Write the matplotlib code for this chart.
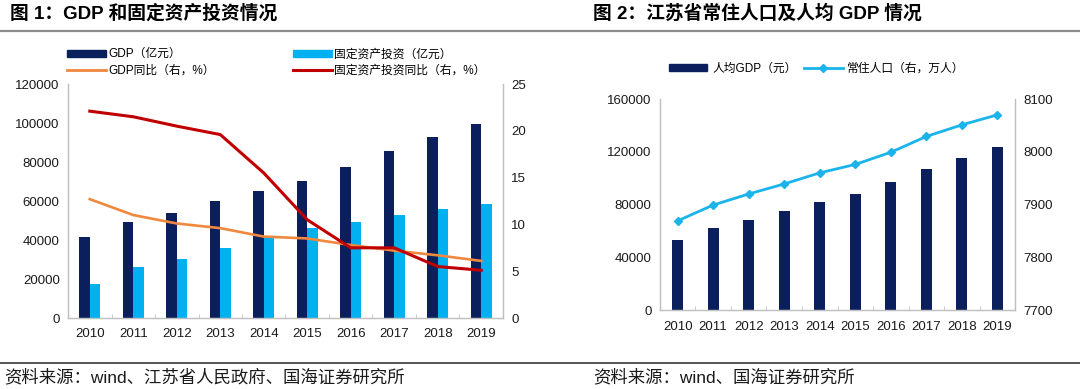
import numpy as np
import matplotlib
matplotlib.use("Agg")
import matplotlib.pyplot as plt
from matplotlib.lines import Line2D
from matplotlib.patches import Patch
from matplotlib.ticker import FixedLocator

plt.rcParams['font.family'] = ['Liberation Sans', 'Noto Sans CJK SC', 'DejaVu Sans']

years = ["2010", "2011", "2012", "2013", "2014", "2015", "2016", "2017", "2018", "2019"]

# 图1
gdp = [41425, 49110, 54058, 59753, 65088, 70116, 77388, 85870, 92595, 99632]
fai = [17400, 26300, 30400, 36000, 41500, 46000, 49300, 53000, 55900, 58500]
gdp_yoy = [12.7, 11.0, 10.1, 9.6, 8.7, 8.5, 7.8, 7.2, 6.7, 6.1]
fai_yoy = [22.1, 21.5, 20.5, 19.6, 15.5, 10.5, 7.5, 7.5, 5.5, 5.1]

# 图2
gdp_pc = [52840, 62290, 68347, 75354, 81874, 87995, 96887, 107150, 115168, 123607]
pop = [7869, 7899, 7920, 7939, 7960, 7976, 7999, 8029, 8051, 8070]

NAVY = "#0B1F5C"
LIGHT = "#00B0F0"
ORANGE = "#F0883E"
RED = "#C00000"
POPC = "#1AB4EA"
SPINE = "#C0C0C0"
TXT = "#1A1A1A"

fig = plt.figure(figsize=(10.8, 3.89), dpi=100)


def style(ax, axr, ymax_l, ymax_r):
    for a in (ax, axr):
        a.spines["top"].set_visible(False)
        for s in ("left", "right", "bottom"):
            a.spines[s].set_color(SPINE)
            a.spines[s].set_linewidth(0.9)
    ax.tick_params(axis="y", length=0, labelsize=9.5, colors=TXT, pad=6)
    axr.tick_params(axis="y", length=0, labelsize=9.5, colors=TXT, pad=6)
    ax.tick_params(axis="x", length=0, labelsize=9.5, colors=TXT, pad=7)
    ax.xaxis.set_minor_locator(FixedLocator(np.arange(0.5, 9.5, 1)))
    ax.tick_params(axis="x", which="minor", direction="in", length=3, color=SPINE)
    ax.yaxis.set_minor_locator(FixedLocator([ymax_l]))
    ax.tick_params(axis="y", which="minor", direction="in", length=4, color=SPINE)
    axr.yaxis.set_minor_locator(FixedLocator([ymax_r]))
    axr.tick_params(axis="y", which="minor", direction="in", length=4, color=SPINE)
    ax.set_xlim(-0.5, 9.5)


x = np.arange(len(years))

# ---- 图1 ----
ax1 = fig.add_axes([0.063, 0.1825, 0.4027, 0.6015])
ax1r = ax1.twinx()
w = 0.24
ax1.bar(x - w / 2, gdp, w, color=NAVY, zorder=2)
ax1.bar(x + w / 2, fai, w, color=LIGHT, zorder=2)
ax1.set_ylim(0, 120000)
ax1.set_yticks(np.arange(0, 120001, 20000))
ax1.set_xticks(x)
ax1.set_xticklabels(years)
ax1r.plot(x, gdp_yoy, color=ORANGE, lw=1.9, zorder=3)
ax1r.plot(x, fai_yoy, color=RED, lw=2.2, zorder=4)
ax1r.set_ylim(0, 25)
ax1r.set_yticks(np.arange(0, 26, 5))
style(ax1, ax1r, 120000, 25)

h1 = [Patch(color=NAVY), Line2D([], [], color=ORANGE, lw=2),
      Patch(color=LIGHT), Line2D([], [], color=RED, lw=2.2)]
l1 = ["GDP（亿元）", "GDP同比（右，%）", "固定资产投资（亿元）", "固定资产投资同比（右，%）"]
fig.legend(h1, l1, ncol=2, loc="upper left", bbox_to_anchor=(0.062, 0.876),
           frameon=False, fontsize=8.5, handlelength=3.3, handleheight=0.55,
           handletextpad=0.2, columnspacing=6.6, labelspacing=0.35,
           borderaxespad=0, borderpad=0)

# ---- 图2 ----
ax2 = fig.add_axes([0.611, 0.203, 0.329, 0.5425])
ax2r = ax2.twinx()
ax2.bar(x, gdp_pc, 0.31, color=NAVY, zorder=2)
ax2.set_ylim(0, 160000)
ax2.set_yticks(np.arange(0, 160001, 40000))
ax2.set_xticks(x)
ax2.set_xticklabels(years)
ax2r.plot(x, pop, color=POPC, lw=2.0, marker="D", ms=4.5, zorder=3)
ax2r.set_ylim(7700, 8100)
ax2r.set_yticks(np.arange(7700, 8101, 100))
style(ax2, ax2r, 160000, 8100)
ax2.tick_params(axis="x", pad=8)

h2 = [Patch(color=NAVY), Line2D([], [], color=POPC, lw=2, marker="D", ms=4)]
l2 = ["人均GDP（元）", "常住人口（右，万人）"]
fig.legend(h2, l2, ncol=2, loc="center left", bbox_to_anchor=(0.619, 0.823),
           frameon=False, fontsize=8.5, handlelength=3.3, handleheight=0.55,
           handletextpad=0.4, columnspacing=0.6, borderaxespad=0, borderpad=0)

# ---- titles, rules, sources ----
fig.text(0.009, 0.966, "图 1：GDP 和固定资产投资情况", fontsize=13.5, fontweight="bold",
         va="center", ha="left", color="black")
fig.text(0.549, 0.966, "图 2：江苏省常住人口及人均 GDP 情况", fontsize=13.5, fontweight="bold",
         va="center", ha="left", color="black")
fig.add_artist(Line2D([0, 1], [1 - 31 / 389] * 2, color="#8C8C8C", lw=1.6))
fig.add_artist(Line2D([0, 1], [1 - 363 / 389] * 2, color="#555555", lw=1.4))
fig.text(0.004, 1 - 377 / 389, "资料来源：wind、江苏省人民政府、国海证券研究所", fontsize=12.5,
         va="center", ha="left", color=TXT)
fig.text(0.549, 1 - 377 / 389, "资料来源：wind、国海证券研究所", fontsize=12.5,
         va="center", ha="left", color=TXT)

fig.savefig("out.png", dpi=100)
